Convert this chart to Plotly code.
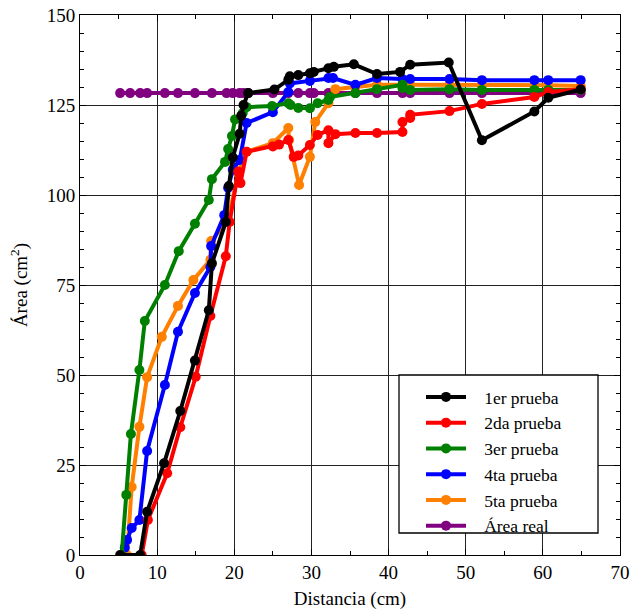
import plotly.graph_objects as go

# 1er prueba
x1 = [5.2, 7.8, 8.7, 10.9, 13.0, 14.9, 16.7, 17.1, 18.9, 19.3, 19.8, 20.7, 20.9, 21.2, 21.8, 25.2, 27.0, 27.2, 28.3, 29.8, 30.3, 32.2, 32.9, 35.5, 38.5, 41.5, 42.8, 47.8, 52.1, 58.9, 60.7, 64.9]
y1 = [0, 0, 12, 25.5, 40, 54, 68, 81, 92.5, 102.5, 110.5, 117, 122, 125, 128.3, 129.3, 132, 133, 133.3, 133.8, 134.2, 135.2, 135.6, 136.3, 133.6, 134.2, 136.2, 136.8, 115.2, 123.2, 127, 129.3]

# 2da prueba
x2 = [8.0, 8.8, 11.3, 13.0, 15.0, 16.9, 18.9, 19.4, 20.5, 20.8, 21.6, 25.0, 25.8, 27.0, 27.7, 28.3, 29.8, 30.8, 32.2, 32.2, 33.1, 35.7, 38.5, 41.8, 41.8, 42.8, 42.8, 47.9, 52.1, 58.9, 60.7, 64.9]
y2 = [0, 9.7, 22.7, 35.5, 49.5, 66.4, 83, 92.5, 106.5, 103.3, 112, 113.5, 114, 115.3, 110.6, 111, 113.9, 116.7, 118, 114.4, 116.9, 117.2, 117.2, 117.5, 120.3, 121.4, 122.3, 123.3, 125.3, 127.2, 128.6, 129.4]

# 3er prueba
x3 = [5.4, 6.0, 6.6, 7.7, 8.4, 11.0, 12.8, 14.9, 16.7, 17.1, 18.8, 19.2, 19.7, 20.1, 21.1, 21.6, 24.9, 27.0, 27.3, 28.3, 29.8, 30.8, 32.2, 32.4, 35.7, 38.5, 41.8, 41.8, 42.8, 47.9, 52.1, 58.9, 60.7, 64.9]
y3 = [0, 16.7, 33.6, 51.4, 65, 75, 84.4, 92, 98.6, 104.4, 109.2, 112.8, 116.4, 121, 122.8, 124.4, 124.7, 125.5, 125, 124.2, 124.1, 125.5, 126.4, 127.2, 128.3, 129.4, 130.6, 129.7, 129.2, 129.4, 129.2, 129.2, 129.2, 129.2]

# 4ta prueba
x4 = [5.8, 6.1, 6.7, 7.7, 8.7, 11.0, 12.7, 14.9, 16.9, 17.0, 18.7, 19.2, 19.8, 20.7, 21.6, 25.0, 27.0, 27.2, 29.8, 32.2, 32.8, 35.7, 38.5, 41.8, 42.8, 47.9, 52.1, 58.9, 60.7, 64.9]
y4 = [2, 4.2, 7.5, 9.7, 28.9, 47.2, 62, 72.8, 80, 85.8, 94.4, 102, 107, 109.7, 120, 123, 128.6, 131, 131.7, 132.5, 132.5, 130.6, 132.5, 132.2, 132.2, 132.2, 131.9, 131.9, 131.9, 131.9]

# 5ta prueba
x5 = [6.1, 6.7, 7.7, 8.7, 10.6, 12.7, 14.7, 16.9, 17.0, 19.2, 20.5, 21.6, 25.0, 27.0, 27.1, 28.4, 29.8, 30.5, 32.2, 33.1, 35.7, 38.5, 41.8, 42.8, 47.9, 52.1, 58.9, 60.7, 64.9]
y5 = [0, 18.9, 35.6, 49.4, 60.6, 69.2, 76.4, 82, 87.2, 93, 106, 112, 114.4, 118.6, 115.3, 102.8, 110.6, 120.3, 125.5, 129.4, 130, 130.6, 130.6, 130.6, 130.6, 130.5, 130.5, 130.5, 130.3]

# Área real
x6 = [5.2, 6.5, 7.8, 8.7, 11.0, 12.7, 14.9, 17.1, 19.0, 19.8, 20.7, 21.2, 21.8, 25.0, 27.0, 28.3, 29.8, 30.3, 32.2, 35.7, 38.5, 41.8, 42.8, 47.9, 52.1, 58.9, 60.7, 64.9]
y6 = [128.3] * len(x6)

names = ["1er prueba", "2da prueba", "3er prueba", "4ta prueba", "5ta prueba", "Área real"]
colors = ["#000000", "#ff0000", "#008000", "#0000ff", "#ff8000", "#800080"]
xs = [x1, x2, x3, x4, x5, x6]
ys = [y1, y2, y3, y4, y5, y6]

SERIF = "Liberation Serif, Times New Roman, Tinos, DejaVu Serif, serif"

fig = go.Figure()
order = [5, 4, 3, 2, 1, 0]
for i in order:
    fig.add_trace(go.Scatter(
        x=xs[i], y=ys[i], name="\u00a0\u00a0\u00a0" + names[i], mode="lines+markers",
        line=dict(color=colors[i], width=4),
        marker=dict(color=colors[i], size=10),
        legendrank=i + 1,
    ))

axis_common = dict(
    showline=True, linecolor="black", linewidth=1, mirror="ticks",
    ticks="inside", ticklen=6, tickcolor="black",
    showgrid=True, gridcolor="#222222", gridwidth=1,
    zeroline=False, automargin=False,
    tickfont=dict(family=SERIF, size=19, color="black"),
)

fig.update_xaxes(
    range=[0, 70], dtick=10, tick0=0,
    minor=dict(dtick=5, ticks="inside", ticklen=4, tickcolor="black", showgrid=False),
    title=dict(text="Distancia (cm)", font=dict(family=SERIF, size=19, color="black"), standoff=12),
    **axis_common,
)
fig.update_yaxes(
    range=[0, 150], dtick=25, tick0=0,
    minor=dict(dtick=5, ticks="inside", ticklen=4, tickcolor="black", showgrid=False),
    title=dict(text="Área (cm<sup>2</sup>)", font=dict(family=SERIF, size=19, color="black"), standoff=14),
    **axis_common,
)

# legend frame
fig.add_shape(type="rect", xref="paper", yref="paper",
              x0=(399 - 80) / 540, x1=(598 - 80) / 540,
              y0=(555 - 533) / 540, y1=(555 - 375) / 540,
              line=dict(color="black", width=1.3), fillcolor="white", layer="above")

fig.update_layout(
    width=631, height=610,
    margin=dict(l=80, r=11, t=15, b=55, autoexpand=False),
    plot_bgcolor="white", paper_bgcolor="white",
    font=dict(family=SERIF, color="black"),
    legend=dict(
        x=(421 - 80) / 540, y=(555 - 379) / 540, xanchor="left", yanchor="top",
        bgcolor="rgba(0,0,0,0)", borderwidth=0,
        font=dict(family=SERIF, size=17.5, color="black"),
        traceorder="normal", itemwidth=40,
    ),
    showlegend=True,
)

fig.write_html("out.html")
